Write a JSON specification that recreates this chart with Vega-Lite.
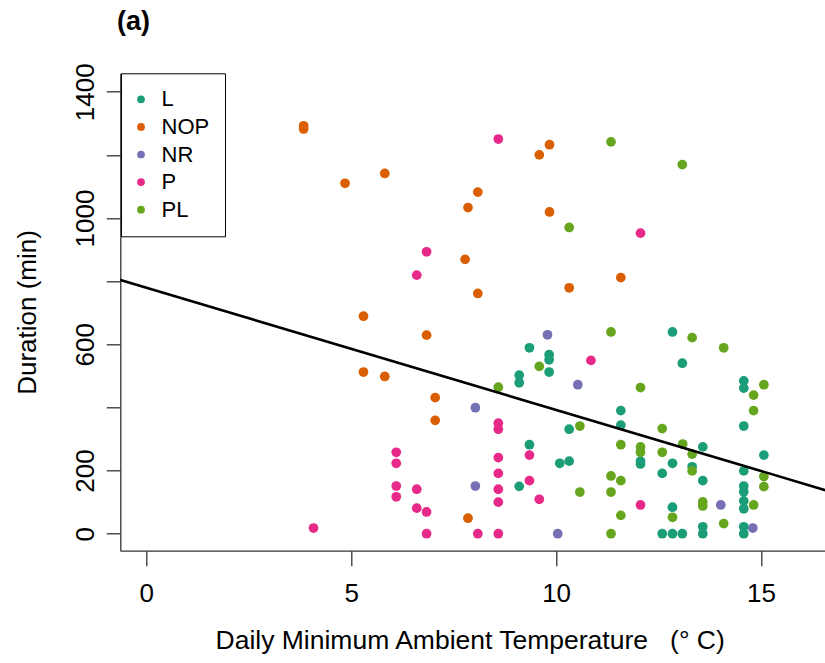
{
  "$schema": "https://vega.github.io/schema/vega-lite/v6.json",
  "width": 704.7,
  "height": 477.4,
  "autosize": {"type": "none"},
  "padding": {"left": 120.3, "top": 73.3, "right": 0, "bottom": 112.3},
  "background": "white",
  "config": {
    "view": {"stroke": null},
    "font": "Liberation Sans",
    "axis": {"grid": false, "domainColor": "#333333", "tickColor": "#333333", "domainWidth": 1.3, "tickWidth": 1.3, "labelColor": "black", "titleColor": "black", "labelFont": "Liberation Sans", "titleFont": "Liberation Sans", "titleFontWeight": "normal"}
  },
  "title": {"text": "(a)", "anchor": "start", "frame": "group", "fontSize": 27, "fontWeight": "bold", "font": "Liberation Sans", "color": "black", "baseline": "alphabetic", "offset": 6, "dx": -3.3},
  "layer": [
    {
      "data": {"values": [
        {"temp": 3.84, "duration": 1292, "group": "NOP"},
        {"temp": 3.84, "duration": 1282, "group": "NOP"},
        {"temp": 4.85, "duration": 1110, "group": "NOP"},
        {"temp": 5.82, "duration": 1141, "group": "NOP"},
        {"temp": 8.09, "duration": 1082, "group": "NOP"},
        {"temp": 7.85, "duration": 1033, "group": "NOP"},
        {"temp": 7.78, "duration": 869, "group": "NOP"},
        {"temp": 8.09, "duration": 761, "group": "NOP"},
        {"temp": 9.84, "duration": 1232, "group": "NOP"},
        {"temp": 9.59, "duration": 1200, "group": "NOP"},
        {"temp": 9.84, "duration": 1019, "group": "NOP"},
        {"temp": 10.32, "duration": 779, "group": "NOP"},
        {"temp": 11.58, "duration": 811, "group": "NOP"},
        {"temp": 5.30, "duration": 689, "group": "NOP"},
        {"temp": 6.84, "duration": 629, "group": "NOP"},
        {"temp": 5.30, "duration": 512, "group": "NOP"},
        {"temp": 5.82, "duration": 498, "group": "NOP"},
        {"temp": 7.05, "duration": 431, "group": "NOP"},
        {"temp": 7.05, "duration": 359, "group": "NOP"},
        {"temp": 7.85, "duration": 49, "group": "NOP"},
        {"temp": 6.84, "duration": 893, "group": "P"},
        {"temp": 6.60, "duration": 819, "group": "P"},
        {"temp": 8.59, "duration": 1250, "group": "P"},
        {"temp": 12.06, "duration": 952, "group": "P"},
        {"temp": 6.10, "duration": 258, "group": "P"},
        {"temp": 6.10, "duration": 223, "group": "P"},
        {"temp": 6.10, "duration": 151, "group": "P"},
        {"temp": 6.10, "duration": 117, "group": "P"},
        {"temp": 6.60, "duration": 141, "group": "P"},
        {"temp": 6.60, "duration": 81, "group": "P"},
        {"temp": 6.84, "duration": 69, "group": "P"},
        {"temp": 4.08, "duration": 18, "group": "P"},
        {"temp": 6.84, "duration": 0, "group": "P"},
        {"temp": 8.09, "duration": 0, "group": "P"},
        {"temp": 8.59, "duration": 0, "group": "P"},
        {"temp": 10.85, "duration": 549, "group": "P"},
        {"temp": 8.59, "duration": 350, "group": "P"},
        {"temp": 8.59, "duration": 331, "group": "P"},
        {"temp": 9.35, "duration": 249, "group": "P"},
        {"temp": 8.59, "duration": 241, "group": "P"},
        {"temp": 8.59, "duration": 191, "group": "P"},
        {"temp": 8.59, "duration": 141, "group": "P"},
        {"temp": 8.59, "duration": 100, "group": "P"},
        {"temp": 9.35, "duration": 168, "group": "P"},
        {"temp": 9.59, "duration": 109, "group": "P"},
        {"temp": 12.06, "duration": 91, "group": "P"},
        {"temp": 8.03, "duration": 399, "group": "NR"},
        {"temp": 8.03, "duration": 151, "group": "NR"},
        {"temp": 9.79, "duration": 630, "group": "NR"},
        {"temp": 10.53, "duration": 472, "group": "NR"},
        {"temp": 14.02, "duration": 91, "group": "NR"},
        {"temp": 14.80, "duration": 18, "group": "NR"},
        {"temp": 10.04, "duration": 0, "group": "NR"},
        {"temp": 12.84, "duration": 639, "group": "L"},
        {"temp": 9.35, "duration": 589, "group": "L"},
        {"temp": 9.83, "duration": 567, "group": "L"},
        {"temp": 9.83, "duration": 551, "group": "L"},
        {"temp": 9.83, "duration": 512, "group": "L"},
        {"temp": 13.08, "duration": 540, "group": "L"},
        {"temp": 9.10, "duration": 502, "group": "L"},
        {"temp": 9.10, "duration": 478, "group": "L"},
        {"temp": 14.58, "duration": 484, "group": "L"},
        {"temp": 14.58, "duration": 461, "group": "L"},
        {"temp": 11.58, "duration": 390, "group": "L"},
        {"temp": 11.58, "duration": 344, "group": "L"},
        {"temp": 14.58, "duration": 341, "group": "L"},
        {"temp": 10.32, "duration": 331, "group": "L"},
        {"temp": 9.35, "duration": 282, "group": "L"},
        {"temp": 13.58, "duration": 275, "group": "L"},
        {"temp": 15.07, "duration": 249, "group": "L"},
        {"temp": 10.09, "duration": 223, "group": "L"},
        {"temp": 10.32, "duration": 230, "group": "L"},
        {"temp": 12.06, "duration": 230, "group": "L"},
        {"temp": 12.06, "duration": 221, "group": "L"},
        {"temp": 12.84, "duration": 223, "group": "L"},
        {"temp": 13.32, "duration": 212, "group": "L"},
        {"temp": 12.59, "duration": 191, "group": "L"},
        {"temp": 14.58, "duration": 199, "group": "L"},
        {"temp": 9.10, "duration": 150, "group": "L"},
        {"temp": 13.58, "duration": 168, "group": "L"},
        {"temp": 14.58, "duration": 151, "group": "L"},
        {"temp": 14.58, "duration": 133, "group": "L"},
        {"temp": 14.58, "duration": 104, "group": "L"},
        {"temp": 14.58, "duration": 79, "group": "L"},
        {"temp": 12.84, "duration": 84, "group": "L"},
        {"temp": 13.58, "duration": 22, "group": "L"},
        {"temp": 14.58, "duration": 22, "group": "L"},
        {"temp": 12.59, "duration": 0, "group": "L"},
        {"temp": 12.84, "duration": 0, "group": "L"},
        {"temp": 13.08, "duration": 0, "group": "L"},
        {"temp": 13.58, "duration": 0, "group": "L"},
        {"temp": 14.58, "duration": 0, "group": "L"},
        {"temp": 11.34, "duration": 1241, "group": "PL"},
        {"temp": 13.08, "duration": 1169, "group": "PL"},
        {"temp": 10.32, "duration": 970, "group": "PL"},
        {"temp": 11.34, "duration": 639, "group": "PL"},
        {"temp": 13.32, "duration": 621, "group": "PL"},
        {"temp": 14.09, "duration": 589, "group": "PL"},
        {"temp": 9.59, "duration": 530, "group": "PL"},
        {"temp": 8.59, "duration": 464, "group": "PL"},
        {"temp": 12.06, "duration": 463, "group": "PL"},
        {"temp": 15.07, "duration": 472, "group": "PL"},
        {"temp": 14.82, "duration": 439, "group": "PL"},
        {"temp": 14.82, "duration": 390, "group": "PL"},
        {"temp": 10.58, "duration": 341, "group": "PL"},
        {"temp": 12.59, "duration": 333, "group": "PL"},
        {"temp": 11.58, "duration": 282, "group": "PL"},
        {"temp": 12.06, "duration": 275, "group": "PL"},
        {"temp": 12.06, "duration": 258, "group": "PL"},
        {"temp": 13.09, "duration": 284, "group": "PL"},
        {"temp": 12.59, "duration": 258, "group": "PL"},
        {"temp": 13.32, "duration": 252, "group": "PL"},
        {"temp": 13.32, "duration": 199, "group": "PL"},
        {"temp": 15.07, "duration": 181, "group": "PL"},
        {"temp": 15.07, "duration": 149, "group": "PL"},
        {"temp": 11.34, "duration": 183, "group": "PL"},
        {"temp": 11.58, "duration": 168, "group": "PL"},
        {"temp": 10.58, "duration": 132, "group": "PL"},
        {"temp": 11.34, "duration": 132, "group": "PL"},
        {"temp": 14.82, "duration": 91, "group": "PL"},
        {"temp": 13.58, "duration": 101, "group": "PL"},
        {"temp": 13.58, "duration": 88, "group": "PL"},
        {"temp": 12.84, "duration": 52, "group": "PL"},
        {"temp": 11.58, "duration": 58, "group": "PL"},
        {"temp": 14.09, "duration": 32, "group": "PL"},
        {"temp": 11.34, "duration": 0, "group": "PL"}
      ]},
      "mark": {"type": "point", "filled": true, "shape": "circle", "size": 95, "opacity": 1},
      "encoding": {
        "x": {"field": "temp", "type": "quantitative",
          "scale": {"domain": [-0.634, 16.562], "nice": false, "zero": false},
          "axis": {"values": [0, 5, 10, 15], "labelFontSize": 26, "tickSize": 15, "labelPadding": 36, "labelBaseline": "alphabetic", "labelFlush": false, "labelOverlap": false,
            "title": "Daily Minimum Ambient Temperature\u00a0\u00a0\u00a0(°\u00a0C)", "titleFontSize": 26.5, "titleAlign": "left", "titleBaseline": "alphabetic", "titleX": 94.7, "titleY": 97.6}},
        "y": {"field": "duration", "type": "quantitative",
          "scale": {"domain": [-53.8, 1458.3], "nice": false, "zero": false},
          "axis": {"values": [0, 200, 400, 600, 800, 1000, 1200, 1400], "format": "d", "labelExpr": "datum.value == 400 || datum.value == 800 || datum.value == 1200 ? '' : datum.label", "labelFontSize": 26, "labelAngle": -90, "labelAlign": "center", "labelBaseline": "alphabetic", "tickSize": 14, "labelPadding": 13, "labelFlush": false, "labelOverlap": false,
            "title": "Duration (min)", "titleFontSize": 26, "titleAngle": -90, "titleAlign": "center", "titleBaseline": "alphabetic", "titleX": -84.6, "titleY": 238.7}},
        "color": {"field": "group", "type": "nominal",
          "scale": {"domain": ["L", "NOP", "NR", "P", "PL"], "range": ["#1B9E77", "#D95F02", "#7570B3", "#E7298A", "#66A61E"]},
          "legend": {"title": null, "orient": "none", "legendX": 0.7, "legendY": 0, "strokeColor": "black", "fillColor": "white", "padding": 15, "labelFontSize": 22, "labelFont": "Liberation Sans", "labelColor": "black", "symbolSize": 60, "symbolType": "circle", "rowPadding": 5.6, "labelOffset": 9.6, "symbolOffset": -6, "symbolStrokeWidth": 0}}
      }
    },
    {
      "data": {"values": [{"temp": -1, "duration": 817.8}, {"temp": 17, "duration": 121.4}]},
      "mark": {"type": "line", "color": "black", "strokeWidth": 2.6, "clip": true},
      "encoding": {
        "x": {"field": "temp", "type": "quantitative"},
        "y": {"field": "duration", "type": "quantitative"}
      }
    }
  ]
}
